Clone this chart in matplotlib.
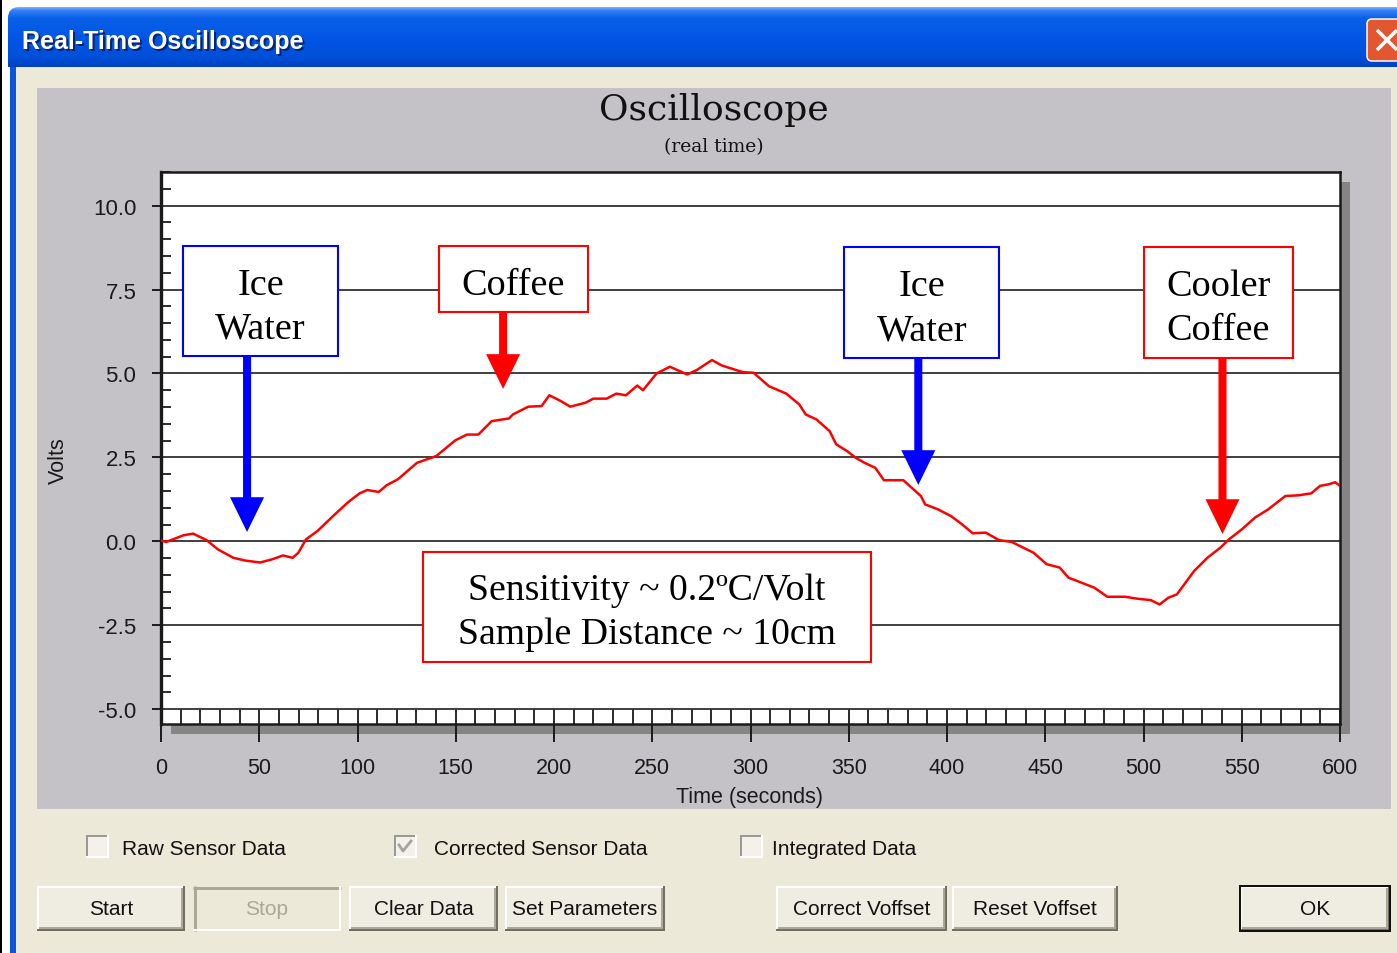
import numpy as np
import matplotlib
matplotlib.use("Agg")
import matplotlib.pyplot as plt
from matplotlib.patches import Rectangle, FancyArrowPatch, FancyBboxPatch, ArrowStyle
from matplotlib.ticker import MultipleLocator, FormatStrFormatter
from matplotlib.colors import LinearSegmentedColormap

# ---------------- data ----------------
time_s = [0, 2.6, 11.4, 16.3, 23.1, 29, 36.8, 42.6, 50.4, 56.3,
          62.1, 67, 69.9, 73.8, 79.7, 87.5, 95.3, 101.1, 105, 110.8,
          114.8, 120.6, 130.3, 140.1, 149.8, 155.7, 161.5, 168.3, 177.1, 179.1,
          186.9, 193.7, 197.6, 203.4, 208.3, 216.1, 220, 226.8, 231.7, 236.6,
          242.4, 245.3, 252.2, 259, 267.8, 272.6, 280.4, 285.3, 291.7, 296.1,
          301.6, 309.4, 318.2, 324.8, 328.1, 333.6, 340.3, 343.6, 349.1, 353.5,
          358, 363.5, 367.9, 377.8, 386.7, 388.9, 395.5, 402.1, 407.6, 413.1,
          419.7, 426.4, 433, 444.1, 450.7, 457.3, 461.8, 468.4, 475, 481.6,
          490.5, 497.1, 503.7, 508.2, 512.6, 517, 521.4, 525.8, 532.5, 539.1,
          543.5, 550.1, 556.8, 563.4, 567.8, 572.2, 578.8, 585.4, 589.8, 594.3,
          597.6, 600]
volts = [0.03, -0.02, 0.18, 0.23, 0.04, -0.24, -0.49, -0.57, -0.63, -0.54,
         -0.42, -0.49, -0.34, 0.06, 0.31, 0.75, 1.17, 1.43, 1.53, 1.47,
         1.67, 1.85, 2.34, 2.54, 3.01, 3.18, 3.18, 3.58, 3.66, 3.78,
         4.01, 4.03, 4.35, 4.18, 4.01, 4.13, 4.25, 4.25, 4.40, 4.35,
         4.64, 4.50, 5.0, 5.2, 4.97, 5.10, 5.40, 5.24, 5.12, 5.04,
         5.02, 4.62, 4.40, 4.08, 3.78, 3.63, 3.28, 2.89, 2.69, 2.49,
         2.34, 2.19, 1.82, 1.82, 1.35, 1.10, 0.95, 0.75, 0.51, 0.24,
         0.26, 0.04, -0.02, -0.34, -0.68, -0.78, -1.08, -1.23, -1.38, -1.65,
         -1.65, -1.71, -1.75, -1.88, -1.68, -1.58, -1.23, -0.88, -0.49, -0.19,
         0.06, 0.36, 0.71, 0.95, 1.15, 1.35, 1.37, 1.43, 1.65, 1.70,
         1.76, 1.65]

x_ticks = [0, 50, 100, 150, 200, 250, 300, 350, 400, 450, 500, 550, 600]
y_ticks = [-5.0, -2.5, 0.0, 2.5, 5.0, 7.5, 10.0]

note_labels = ["Ice\nWater", "Coffee", "Ice\nWater", "Cooler\nCoffee"]
note_colors = ["#0000FF", "#FF0000", "#0000FF", "#FF0000"]
note_box_t = [(11.2, 90.1), (141.5, 217.4), (347.8, 426.7), (500.0, 575.9)]
note_box_v = [(5.52, 8.80), (6.83, 8.80), (5.46, 8.77), (5.46, 8.77)]
arrow_t = [43.8, 174.1, 385.4, 540.2]
arrow_tip_v = [0.28, 4.54, 1.68, 0.22]

info_text = "Sensitivity ~ 0.2\u00baC/Volt\nSample Distance ~ 10cm"
info_box_t = (133.4, 361.5)
info_box_v = (-3.59, -0.31)

checkbox_labels = ["Raw Sensor Data", "Corrected Sensor Data", "Integrated Data"]
button_labels = ["Start", "Stop", "Clear Data", "Set Parameters",
                 "Correct Voffset", "Reset Voffset", "OK"]

# ---------------- figure ----------------
plt.rcParams['font.family'] = ['Liberation Sans', 'DejaVu Sans']
W, H = 1397, 954
fig = plt.figure(figsize=(W / 100, H / 100), dpi=100, facecolor='white')
bg = fig.add_axes([0, 0, 1, 1])
bg.axis('off')

PX = 0.72  # points per pixel


def rect(x0, y0, x1, y1, color, z=1):
    bg.add_patch(Rectangle((x0, y0), x1 - x0, y1 - y0, facecolor=color,
                           edgecolor='none', zorder=z))


def seg(x0, y0, x1, y1, color, lw_px, z=3):
    bg.plot([x0, x1], [y0, y1], color=color, lw=lw_px * PX,
            solid_capstyle='butt', zorder=z)


# window chrome
rect(0, 0, 1.5, H, 'black', 1)
rect(10, 40, 16, H, '#0a55e0', 1)
rect(16, 68, W, H, '#ECE9D8', 1)

cmap = LinearSegmentedColormap.from_list(
    'tb', [(0, '#7ab4ff'), (0.05, '#3680f4'), (0.18, '#0a60e8'),
           (0.55, '#0055e5'), (0.85, '#004fd8'), (1, '#0040c0')])
grad = np.linspace(0, 1, 120).reshape(-1, 1)
im = bg.imshow(grad, cmap=cmap, extent=[8, W, 68, 8], aspect='auto',
               zorder=2, interpolation='bilinear')
clip = FancyBboxPatch((8, 8), W + 30, 90,
                      boxstyle='round,pad=0,rounding_size=11',
                      transform=bg.transData, facecolor='none', edgecolor='none')
bg.add_patch(clip)
im.set_clip_path(clip)

bg.text(23.5, 43.5, "Real-Time Oscilloscope", color='#0a2470', fontsize=18,
        fontweight='bold', ha='left', va='center', zorder=4)
bg.text(22, 42, "Real-Time Oscilloscope", color='white', fontsize=18,
        fontweight='bold', ha='left', va='center', zorder=5)

# close button
bg.add_patch(FancyBboxPatch((1367, 20), 50, 42,
                            boxstyle='round,pad=0,rounding_size=5',
                            facecolor='#E2572F', edgecolor='white',
                            lw=1.5 * PX, zorder=4))
seg(1377, 31, 1397, 51, 'white', 3.5, 5)
seg(1377, 51, 1397, 31, 'white', 3.5, 5)

# gray chart panel and plot shadow
rect(37, 89, 1391, 810, '#C4C2C6', 2)
rect(171, 183, 1350, 735, '#858585', 3)

bg.text(714, 110, "Oscilloscope", ha='center', va='center', fontsize=26,
        family='DejaVu Serif', color='#111111', zorder=4)
bg.text(714, 147, "(real time)", ha='center', va='center', fontsize=13.5,
        family='DejaVu Serif', color='#111111', zorder=4)

bg.set_xlim(0, W)
bg.set_ylim(H, 0)

# ---------------- main plot axes ----------------
ax = fig.add_axes([161 / W, (H - 725) / H, 1179 / W, 552 / H])
ax.set_facecolor('white')
ax.set_xlim(0, 600)
ax.set_ylim(-5.44, 11.0)

ax.plot(time_s, volts, color='#FF0000', lw=1.8, zorder=4)

ax.set_xticks(x_ticks)
ax.set_yticks(y_ticks)
ax.yaxis.set_major_formatter(FormatStrFormatter('%.1f'))
ax.xaxis.set_minor_locator(MultipleLocator(10))
ax.yaxis.set_minor_locator(MultipleLocator(0.5))
ax.xaxis.remove_overlapping_locs = False

ax.tick_params(axis='x', which='major', direction='out', length=13,
               width=1.4, pad=11, labelsize=15.5, colors='#1a1a1a')
ax.tick_params(axis='x', which='minor', direction='in', length=10.7,
               width=1.3, colors='#1a1a1a')
ax.tick_params(axis='y', which='major', direction='out', length=6.3,
               width=1.4, pad=11.5, labelsize=16, colors='#1a1a1a')
ax.tick_params(axis='y', which='minor', direction='in', length=7.2,
               width=1.3, colors='#1a1a1a')

ax.grid(axis='y', which='major', color='#303030', lw=1.3)

for side, lw in (('left', 2.4), ('top', 1.8), ('right', 1.8), ('bottom', 1.8)):
    ax.spines[side].set_linewidth(lw)
    ax.spines[side].set_color('#1a1a1a')

ax.set_xlabel("Time (seconds)", fontsize=15.5, color='#1a1a1a')
ax.xaxis.label.set_va('center')
ax.xaxis.set_label_coords((749 - 161) / 1179, (725 - 798) / 552)
ax.set_ylabel("Volts", fontsize=15.5, color='#1a1a1a')
ax.yaxis.label.set_va('center')
ax.yaxis.set_label_coords((58 - 161) / 1179, (725 - 461) / 552)

# annotations
arrow_style = ArrowStyle.Simple(head_length=25, head_width=24.5, tail_width=5.8)
for lab, col, (t0, t1), (v0, v1), at, tip in zip(note_labels, note_colors,
                                                  note_box_t, note_box_v,
                                                  arrow_t, arrow_tip_v):
    ax.add_patch(Rectangle((t0, v0), t1 - t0, v1 - v0, facecolor='white',
                           edgecolor=col, lw=1.5, zorder=6))
    ax.text((t0 + t1) / 2, (v0 + v1) / 2 - 0.16, lab, ha='center', va='center',
            fontsize=27.5, family='Liberation Serif', color='black',
            linespacing=1.36, zorder=7)
    ax.add_patch(FancyArrowPatch((at, v0), (at, tip), arrowstyle=arrow_style,
                                 mutation_scale=1, color=col, lw=0,
                                 shrinkA=0, shrinkB=0, zorder=5))

ax.add_patch(Rectangle((info_box_t[0], info_box_v[0]),
                       info_box_t[1] - info_box_t[0],
                       info_box_v[1] - info_box_v[0], facecolor='white',
                       edgecolor='#FF0000', lw=1.5, zorder=6))
ax.text(sum(info_box_t) / 2, sum(info_box_v) / 2 - 0.14, info_text, ha='center',
        va='center', fontsize=27.2, family='Liberation Serif', color='black',
        linespacing=1.36, zorder=7)

# ---------------- dialog controls ----------------
def checkbox(x0, y0, s, checked):
    rect(x0, y0, x0 + s, y0 + s, '#F3F1EA', 3)
    seg(x0, y0 + 1, x0 + s, y0 + 1, '#9a9a94', 2, 4)
    seg(x0 + 1, y0, x0 + 1, y0 + s, '#9a9a94', 2, 4)
    seg(x0, y0 + s - 1, x0 + s, y0 + s - 1, '#ffffff', 2, 4)
    seg(x0 + s - 1, y0, x0 + s - 1, y0 + s, '#ffffff', 2, 4)
    if checked:
        bg.plot([x0 + 5, x0 + 9, x0 + 17], [y0 + 10, y0 + 16, y0 + 6],
                color='#a5a39b', lw=2.8 * PX, zorder=5)


cb_boxes = [86, 394, 740]
cb_text = [122, 434, 772]
cb_checked = [False, True, False]
for lab, bx, tx, chk in zip(checkbox_labels, cb_boxes, cb_text, cb_checked):
    checkbox(bx, 836, 23, chk)
    bg.text(tx, 850, lab, ha='left', va='center', fontsize=15,
            color='#111111', zorder=5)

btn_x = [(37, 185), (193, 341), (349, 498), (505, 665),
         (776, 947), (952, 1118), (1240, 1390)]
by0, by1 = 887, 932
for lab, (x0, x1) in zip(button_labels, btn_x):
    if lab == "Stop":
        rect(x0, by0, x1, by1, '#ECE9D8', 3)
        seg(x0, by0 + 1.5, x1, by0 + 1.5, '#ACA899', 3, 4)
        seg(x0 + 1.5, by0, x0 + 1.5, by1, '#ACA899', 3, 4)
        seg(x0, by1 - 1, x1, by1 - 1, '#ffffff', 2, 4)
        seg(x1 - 1, by0, x1 - 1, by1, '#ffffff', 2, 4)
        tcol = '#ACA899'
    else:
        rect(x0, by0, x1, by1, '#EFECE2', 3)
        seg(x0, by0 + 1, x1, by0 + 1, '#ffffff', 2, 4)
        seg(x0 + 1, by0, x0 + 1, by1, '#ffffff', 2, 4)
        seg(x0, by1 - 1, x1, by1 - 1, '#716F64', 2, 4)
        seg(x1 - 1, by0, x1 - 1, by1, '#716F64', 2, 4)
        seg(x0 + 2, by1 - 3, x1 - 2, by1 - 3, '#ACA899', 2, 4)
        seg(x1 - 3, by0 + 2, x1 - 3, by1 - 2, '#ACA899', 2, 4)
        tcol = '#111111'
        if lab == "OK":
            bg.add_patch(Rectangle((x0, by0), x1 - x0, by1 - by0,
                                   facecolor='none', edgecolor='#111111',
                                   lw=2 * PX, zorder=5))
    bg.text((x0 + x1) / 2, 910, lab, ha='center', va='center', fontsize=15,
            color=tcol, zorder=6)

fig.savefig("out.png", dpi=100, facecolor='white')
